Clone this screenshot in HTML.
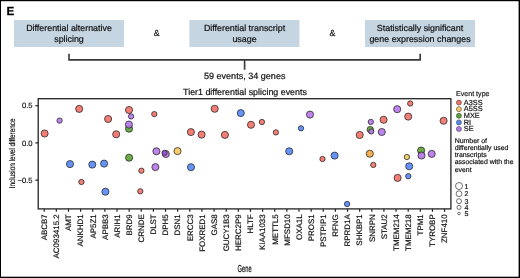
<!DOCTYPE html>
<html><head><meta charset="utf-8"><style>
html,body{margin:0;padding:0;background:#fff;}
svg{display:block;will-change:transform;}
text{font-family:"Liberation Sans",sans-serif;fill:#111;text-rendering:geometricPrecision;}
.b{stroke:#111;stroke-width:0.2px;}
.s{stroke:#111;stroke-width:0.18px;}
</style></head><body>
<svg width="520" height="278" viewBox="0 0 520 278">
<rect x="0" y="0" width="520" height="278" fill="#fff"/>

<text x="6.6" y="15.1" style="font-size:11.7px;font-weight:bold;fill:#000;stroke:#000;stroke-width:0.25px">E</text>
<rect x="14" y="20" width="110" height="27" fill="#C5D5E2"/>
<rect x="189.4" y="20" width="110" height="27" fill="#C5D5E2"/>
<rect x="365" y="20" width="110" height="27" fill="#C5D5E2"/>
<text class="b" x="69" y="30.6" text-anchor="middle" style="font-size:8.9px;">Differential alternative</text>
<text class="b" x="69" y="41.6" text-anchor="middle" style="font-size:8.9px;">splicing</text>
<text class="b" x="244.5" y="30.6" text-anchor="middle" style="font-size:8.9px;">Differential transcript</text>
<text class="b" x="244.5" y="41.6" text-anchor="middle" style="font-size:8.9px;">usage</text>
<text class="b" x="420" y="30.6" text-anchor="middle" style="font-size:8.9px;">Statistically significant</text>
<text class="b" x="420" y="41.6" text-anchor="middle" style="font-size:8.9px;">gene expression changes</text>
<text class="b" x="156.8" y="36.2" text-anchor="middle" style="font-size:8.9px;">&amp;</text>
<text class="b" x="332.5" y="36.2" text-anchor="middle" style="font-size:8.9px;">&amp;</text>
<path d="M69,53.8 V59.9 H420.2 V53.8 M244.6,59.9 V69.8" fill="none" stroke="#383838" stroke-width="1.6"/>
<text class="b" x="244.7" y="78.6" text-anchor="middle" style="font-size:9.05px;">59 events, 34 genes</text>
<text class="b" x="245" y="95" text-anchor="middle" style="font-size:8.9px;">Tier1 differential splicing events</text>
<rect x="38.2" y="98.7" width="412.7" height="110.2" fill="none" stroke="#222" stroke-width="1.3"/>
<line x1="35.3" y1="105.70" x2="38.3" y2="105.70" stroke="#222" stroke-width="1.2"/>
<text class="s" x="32.6" y="108.40" text-anchor="end" style="font-size:7.6px">0.5</text>
<line x1="35.3" y1="142.90" x2="38.3" y2="142.90" stroke="#222" stroke-width="1.2"/>
<text class="s" x="32.6" y="145.60" text-anchor="end" style="font-size:7.6px">0.0</text>
<line x1="35.3" y1="180.10" x2="38.3" y2="180.10" stroke="#222" stroke-width="1.2"/>
<text class="s" x="32.6" y="182.80" text-anchor="end" style="font-size:7.6px">−0.5</text>
<line x1="44.20" y1="208.9" x2="44.20" y2="211.8" stroke="#222" stroke-width="1.2"/>
<text class="s" transform="translate(47.00,214.3) rotate(-90)" text-anchor="end" style="font-size:7.95px">ABCB7</text>
<line x1="56.33" y1="208.9" x2="56.33" y2="211.8" stroke="#222" stroke-width="1.2"/>
<text class="s" transform="translate(59.13,214.3) rotate(-90)" text-anchor="end" style="font-size:7.95px">AC093415.2</text>
<line x1="68.47" y1="208.9" x2="68.47" y2="211.8" stroke="#222" stroke-width="1.2"/>
<text class="s" transform="translate(71.27,214.3) rotate(-90)" text-anchor="end" style="font-size:7.95px">AMT</text>
<line x1="80.60" y1="208.9" x2="80.60" y2="211.8" stroke="#222" stroke-width="1.2"/>
<text class="s" transform="translate(83.40,214.3) rotate(-90)" text-anchor="end" style="font-size:7.95px">ANKHD1</text>
<line x1="92.73" y1="208.9" x2="92.73" y2="211.8" stroke="#222" stroke-width="1.2"/>
<text class="s" transform="translate(95.53,214.3) rotate(-90)" text-anchor="end" style="font-size:7.95px">AP5Z1</text>
<line x1="104.86" y1="208.9" x2="104.86" y2="211.8" stroke="#222" stroke-width="1.2"/>
<text class="s" transform="translate(107.66,214.3) rotate(-90)" text-anchor="end" style="font-size:7.95px">APBB3</text>
<line x1="117.00" y1="208.9" x2="117.00" y2="211.8" stroke="#222" stroke-width="1.2"/>
<text class="s" transform="translate(119.80,214.3) rotate(-90)" text-anchor="end" style="font-size:7.95px">ARIH1</text>
<line x1="129.13" y1="208.9" x2="129.13" y2="211.8" stroke="#222" stroke-width="1.2"/>
<text class="s" transform="translate(131.93,214.3) rotate(-90)" text-anchor="end" style="font-size:7.95px">BRD9</text>
<line x1="141.26" y1="208.9" x2="141.26" y2="211.8" stroke="#222" stroke-width="1.2"/>
<text class="s" transform="translate(144.06,214.3) rotate(-90)" text-anchor="end" style="font-size:7.95px">CRNDE</text>
<line x1="153.40" y1="208.9" x2="153.40" y2="211.8" stroke="#222" stroke-width="1.2"/>
<text class="s" transform="translate(156.20,214.3) rotate(-90)" text-anchor="end" style="font-size:7.95px">DLST</text>
<line x1="165.53" y1="208.9" x2="165.53" y2="211.8" stroke="#222" stroke-width="1.2"/>
<text class="s" transform="translate(168.33,214.3) rotate(-90)" text-anchor="end" style="font-size:7.95px">DPH5</text>
<line x1="177.66" y1="208.9" x2="177.66" y2="211.8" stroke="#222" stroke-width="1.2"/>
<text class="s" transform="translate(180.46,214.3) rotate(-90)" text-anchor="end" style="font-size:7.95px">DSN1</text>
<line x1="189.80" y1="208.9" x2="189.80" y2="211.8" stroke="#222" stroke-width="1.2"/>
<text class="s" transform="translate(192.60,214.3) rotate(-90)" text-anchor="end" style="font-size:7.95px">ERCC3</text>
<line x1="201.93" y1="208.9" x2="201.93" y2="211.8" stroke="#222" stroke-width="1.2"/>
<text class="s" transform="translate(204.73,214.3) rotate(-90)" text-anchor="end" style="font-size:7.95px">FOXRED1</text>
<line x1="214.06" y1="208.9" x2="214.06" y2="211.8" stroke="#222" stroke-width="1.2"/>
<text class="s" transform="translate(216.86,214.3) rotate(-90)" text-anchor="end" style="font-size:7.95px">GAS8</text>
<line x1="226.19" y1="208.9" x2="226.19" y2="211.8" stroke="#222" stroke-width="1.2"/>
<text class="s" transform="translate(229.00,214.3) rotate(-90)" text-anchor="end" style="font-size:7.95px">GUCY1B3</text>
<line x1="238.33" y1="208.9" x2="238.33" y2="211.8" stroke="#222" stroke-width="1.2"/>
<text class="s" transform="translate(241.13,214.3) rotate(-90)" text-anchor="end" style="font-size:7.95px">HERC2P9</text>
<line x1="250.46" y1="208.9" x2="250.46" y2="211.8" stroke="#222" stroke-width="1.2"/>
<text class="s" transform="translate(253.26,214.3) rotate(-90)" text-anchor="end" style="font-size:7.95px">HLTF</text>
<line x1="262.59" y1="208.9" x2="262.59" y2="211.8" stroke="#222" stroke-width="1.2"/>
<text class="s" transform="translate(265.39,214.3) rotate(-90)" text-anchor="end" style="font-size:7.95px">KIAA1033</text>
<line x1="274.73" y1="208.9" x2="274.73" y2="211.8" stroke="#222" stroke-width="1.2"/>
<text class="s" transform="translate(277.53,214.3) rotate(-90)" text-anchor="end" style="font-size:7.95px">METTL5</text>
<line x1="286.86" y1="208.9" x2="286.86" y2="211.8" stroke="#222" stroke-width="1.2"/>
<text class="s" transform="translate(289.66,214.3) rotate(-90)" text-anchor="end" style="font-size:7.95px">MFSD10</text>
<line x1="298.99" y1="208.9" x2="298.99" y2="211.8" stroke="#222" stroke-width="1.2"/>
<text class="s" transform="translate(301.79,214.3) rotate(-90)" text-anchor="end" style="font-size:7.95px">OXA1L</text>
<line x1="311.13" y1="208.9" x2="311.13" y2="211.8" stroke="#222" stroke-width="1.2"/>
<text class="s" transform="translate(313.93,214.3) rotate(-90)" text-anchor="end" style="font-size:7.95px">PROS1</text>
<line x1="323.26" y1="208.9" x2="323.26" y2="211.8" stroke="#222" stroke-width="1.2"/>
<text class="s" transform="translate(326.06,214.3) rotate(-90)" text-anchor="end" style="font-size:7.95px">PSTPIP1</text>
<line x1="335.39" y1="208.9" x2="335.39" y2="211.8" stroke="#222" stroke-width="1.2"/>
<text class="s" transform="translate(338.19,214.3) rotate(-90)" text-anchor="end" style="font-size:7.95px">RFNG</text>
<line x1="347.52" y1="208.9" x2="347.52" y2="211.8" stroke="#222" stroke-width="1.2"/>
<text class="s" transform="translate(350.32,214.3) rotate(-90)" text-anchor="end" style="font-size:7.95px">RPRD1A</text>
<line x1="359.66" y1="208.9" x2="359.66" y2="211.8" stroke="#222" stroke-width="1.2"/>
<text class="s" transform="translate(362.46,214.3) rotate(-90)" text-anchor="end" style="font-size:7.95px">SHKBP1</text>
<line x1="371.79" y1="208.9" x2="371.79" y2="211.8" stroke="#222" stroke-width="1.2"/>
<text class="s" transform="translate(374.59,214.3) rotate(-90)" text-anchor="end" style="font-size:7.95px">SNRPN</text>
<line x1="383.92" y1="208.9" x2="383.92" y2="211.8" stroke="#222" stroke-width="1.2"/>
<text class="s" transform="translate(386.72,214.3) rotate(-90)" text-anchor="end" style="font-size:7.95px">STAU2</text>
<line x1="396.06" y1="208.9" x2="396.06" y2="211.8" stroke="#222" stroke-width="1.2"/>
<text class="s" transform="translate(398.86,214.3) rotate(-90)" text-anchor="end" style="font-size:7.95px">TMEM214</text>
<line x1="408.19" y1="208.9" x2="408.19" y2="211.8" stroke="#222" stroke-width="1.2"/>
<text class="s" transform="translate(410.99,214.3) rotate(-90)" text-anchor="end" style="font-size:7.95px">TMEM218</text>
<line x1="420.32" y1="208.9" x2="420.32" y2="211.8" stroke="#222" stroke-width="1.2"/>
<text class="s" transform="translate(423.12,214.3) rotate(-90)" text-anchor="end" style="font-size:7.95px">TPM1</text>
<line x1="432.46" y1="208.9" x2="432.46" y2="211.8" stroke="#222" stroke-width="1.2"/>
<text class="s" transform="translate(435.26,214.3) rotate(-90)" text-anchor="end" style="font-size:7.95px">TYROBP</text>
<line x1="444.59" y1="208.9" x2="444.59" y2="211.8" stroke="#222" stroke-width="1.2"/>
<text class="s" transform="translate(447.39,214.3) rotate(-90)" text-anchor="end" style="font-size:7.95px">ZNF410</text>
<text class="s" transform="translate(14.7,153.4) rotate(-90) scale(0.77,1)" text-anchor="middle" style="font-size:8.3px">Inclusion level difference</text>
<text class="b" transform="translate(244.6,271.6) scale(0.57,1)" text-anchor="middle" style="font-size:10.1px">Gene</text>
<circle cx="44.6" cy="133.5" r="3.55" fill="#F37067" fill-opacity="0.9" stroke="#2a2a2a" stroke-width="0.8"/>
<circle cx="59.6" cy="120.6" r="2.65" fill="#B776EA" fill-opacity="0.9" stroke="#2a2a2a" stroke-width="0.8"/>
<circle cx="79.2" cy="108.9" r="3.55" fill="#F37067" fill-opacity="0.9" stroke="#2a2a2a" stroke-width="0.8"/>
<circle cx="70.0" cy="164.1" r="3.55" fill="#5388F9" fill-opacity="0.9" stroke="#2a2a2a" stroke-width="0.8"/>
<circle cx="81.4" cy="182.0" r="2.65" fill="#F37067" fill-opacity="0.9" stroke="#2a2a2a" stroke-width="0.8"/>
<circle cx="108.1" cy="119.0" r="3.55" fill="#F37067" fill-opacity="0.9" stroke="#2a2a2a" stroke-width="0.8"/>
<circle cx="116.2" cy="134.3" r="3.55" fill="#F37067" fill-opacity="0.9" stroke="#2a2a2a" stroke-width="0.8"/>
<circle cx="129.0" cy="110.0" r="3.55" fill="#F37067" fill-opacity="0.9" stroke="#2a2a2a" stroke-width="0.8"/>
<circle cx="131.1" cy="116.4" r="2.65" fill="#B776EA" fill-opacity="0.9" stroke="#2a2a2a" stroke-width="0.8"/>
<circle cx="129.0" cy="128.7" r="3.55" fill="#5CA334" fill-opacity="0.9" stroke="#2a2a2a" stroke-width="0.8"/>
<circle cx="128.9" cy="124.6" r="3.55" fill="#B776EA" fill-opacity="0.9" stroke="#2a2a2a" stroke-width="0.8"/>
<circle cx="92.3" cy="164.6" r="3.55" fill="#5388F9" fill-opacity="0.9" stroke="#2a2a2a" stroke-width="0.8"/>
<circle cx="104.1" cy="163.6" r="3.55" fill="#5388F9" fill-opacity="0.9" stroke="#2a2a2a" stroke-width="0.8"/>
<circle cx="129.1" cy="157.7" r="3.55" fill="#5CA334" fill-opacity="0.9" stroke="#2a2a2a" stroke-width="0.8"/>
<circle cx="105.4" cy="191.7" r="3.55" fill="#5388F9" fill-opacity="0.9" stroke="#2a2a2a" stroke-width="0.8"/>
<circle cx="154.3" cy="114.1" r="2.65" fill="#F37067" fill-opacity="0.9" stroke="#2a2a2a" stroke-width="0.8"/>
<circle cx="156.4" cy="151.3" r="3.55" fill="#B776EA" fill-opacity="0.9" stroke="#2a2a2a" stroke-width="0.8"/>
<circle cx="165.8" cy="154.0" r="3.55" fill="#B776EA" fill-opacity="0.9" stroke="#2a2a2a" stroke-width="0.8"/>
<circle cx="164.6" cy="152.8" r="2.6" fill="#9650C8" fill-opacity="0.9" stroke="#2a2a2a" stroke-width="0.8"/>
<circle cx="177.5" cy="151.1" r="3.55" fill="#F9C75C" fill-opacity="0.9" stroke="#2a2a2a" stroke-width="0.8"/>
<circle cx="155.4" cy="167.1" r="3.55" fill="#B776EA" fill-opacity="0.9" stroke="#2a2a2a" stroke-width="0.8"/>
<circle cx="141.4" cy="170.7" r="2.65" fill="#F37067" fill-opacity="0.9" stroke="#2a2a2a" stroke-width="0.8"/>
<circle cx="140.3" cy="191.3" r="2.65" fill="#F37067" fill-opacity="0.9" stroke="#2a2a2a" stroke-width="0.8"/>
<circle cx="214.7" cy="108.8" r="3.55" fill="#F37067" fill-opacity="0.9" stroke="#2a2a2a" stroke-width="0.8"/>
<circle cx="190.9" cy="132.1" r="3.55" fill="#F37067" fill-opacity="0.9" stroke="#2a2a2a" stroke-width="0.8"/>
<circle cx="201.6" cy="134.6" r="3.55" fill="#F37067" fill-opacity="0.9" stroke="#2a2a2a" stroke-width="0.8"/>
<circle cx="224.9" cy="134.9" r="3.55" fill="#F37067" fill-opacity="0.9" stroke="#2a2a2a" stroke-width="0.8"/>
<circle cx="191.0" cy="167.2" r="3.55" fill="#5388F9" fill-opacity="0.9" stroke="#2a2a2a" stroke-width="0.8"/>
<circle cx="240.8" cy="113.1" r="3.55" fill="#5388F9" fill-opacity="0.9" stroke="#2a2a2a" stroke-width="0.8"/>
<circle cx="251.0" cy="124.8" r="3.55" fill="#F37067" fill-opacity="0.9" stroke="#2a2a2a" stroke-width="0.8"/>
<circle cx="261.9" cy="122.0" r="2.65" fill="#F37067" fill-opacity="0.9" stroke="#2a2a2a" stroke-width="0.8"/>
<circle cx="275.9" cy="132.4" r="2.65" fill="#F37067" fill-opacity="0.9" stroke="#2a2a2a" stroke-width="0.8"/>
<circle cx="310.0" cy="114.6" r="3.55" fill="#B776EA" fill-opacity="0.9" stroke="#2a2a2a" stroke-width="0.8"/>
<circle cx="301.0" cy="128.3" r="2.65" fill="#5388F9" fill-opacity="0.9" stroke="#2a2a2a" stroke-width="0.8"/>
<circle cx="289.2" cy="151.3" r="3.55" fill="#5388F9" fill-opacity="0.9" stroke="#2a2a2a" stroke-width="0.8"/>
<circle cx="322.5" cy="159.0" r="2.65" fill="#F37067" fill-opacity="0.9" stroke="#2a2a2a" stroke-width="0.8"/>
<circle cx="334.6" cy="155.6" r="3.55" fill="#5388F9" fill-opacity="0.9" stroke="#2a2a2a" stroke-width="0.8"/>
<circle cx="347.1" cy="204.0" r="2.65" fill="#5388F9" fill-opacity="0.9" stroke="#2a2a2a" stroke-width="0.8"/>
<circle cx="359.7" cy="135.0" r="3.55" fill="#F37067" fill-opacity="0.9" stroke="#2a2a2a" stroke-width="0.8"/>
<circle cx="370.8" cy="121.9" r="2.65" fill="#B776EA" fill-opacity="0.9" stroke="#2a2a2a" stroke-width="0.8"/>
<circle cx="370.3" cy="129.6" r="3.2" fill="#5CA334" fill-opacity="0.9" stroke="#2a2a2a" stroke-width="0.8"/>
<circle cx="371.3" cy="131.5" r="2.6" fill="#B776EA" fill-opacity="0.9" stroke="#2a2a2a" stroke-width="0.8"/>
<circle cx="383.6" cy="119.8" r="3.55" fill="#F37067" fill-opacity="0.9" stroke="#2a2a2a" stroke-width="0.8"/>
<circle cx="381.8" cy="132.0" r="3.55" fill="#B776EA" fill-opacity="0.9" stroke="#2a2a2a" stroke-width="0.8"/>
<circle cx="369.8" cy="153.7" r="3.55" fill="#F4A63D" fill-opacity="0.9" stroke="#2a2a2a" stroke-width="0.8"/>
<circle cx="373.3" cy="164.9" r="2.65" fill="#F37067" fill-opacity="0.9" stroke="#2a2a2a" stroke-width="0.8"/>
<circle cx="397.2" cy="109.2" r="3.55" fill="#B776EA" fill-opacity="0.9" stroke="#2a2a2a" stroke-width="0.8"/>
<circle cx="410.2" cy="103.5" r="2.65" fill="#F37067" fill-opacity="0.9" stroke="#2a2a2a" stroke-width="0.8"/>
<circle cx="408.2" cy="116.6" r="3.55" fill="#F37067" fill-opacity="0.9" stroke="#2a2a2a" stroke-width="0.8"/>
<circle cx="397.6" cy="177.9" r="3.55" fill="#F37067" fill-opacity="0.9" stroke="#2a2a2a" stroke-width="0.8"/>
<circle cx="406.9" cy="157.0" r="2.65" fill="#F9C75C" fill-opacity="0.9" stroke="#2a2a2a" stroke-width="0.8"/>
<circle cx="409.2" cy="166.3" r="3.55" fill="#5388F9" fill-opacity="0.9" stroke="#2a2a2a" stroke-width="0.8"/>
<circle cx="408.3" cy="176.2" r="2.65" fill="#5388F9" fill-opacity="0.9" stroke="#2a2a2a" stroke-width="0.8"/>
<circle cx="443.6" cy="120.8" r="3.55" fill="#F37067" fill-opacity="0.9" stroke="#2a2a2a" stroke-width="0.8"/>
<circle cx="421.1" cy="150.5" r="3.55" fill="#5CA334" fill-opacity="0.9" stroke="#2a2a2a" stroke-width="0.8"/>
<circle cx="421.5" cy="155.5" r="3.55" fill="#B776EA" fill-opacity="0.9" stroke="#2a2a2a" stroke-width="0.8"/>
<circle cx="431.7" cy="153.9" r="3.55" fill="#B776EA" fill-opacity="0.9" stroke="#2a2a2a" stroke-width="0.8"/>
<text class="s" x="456" y="95.8" style="font-size:7.1px">Event type</text>
<circle cx="458.9" cy="102.60" r="2.5" fill="#F37067" stroke="#444" stroke-width="0.6"/>
<text class="s" x="463.8" y="104.80" style="font-size:7.35px">A3SS</text>
<circle cx="458.9" cy="109.20" r="2.5" fill="#F9C75C" stroke="#444" stroke-width="0.6"/>
<text class="s" x="463.8" y="111.40" style="font-size:7.35px">A5SS</text>
<circle cx="458.9" cy="115.80" r="2.5" fill="#5CA334" stroke="#444" stroke-width="0.6"/>
<text class="s" x="463.8" y="118.00" style="font-size:7.35px">MXE</text>
<circle cx="458.9" cy="122.40" r="2.5" fill="#5388F9" stroke="#444" stroke-width="0.6"/>
<text class="s" x="463.8" y="124.60" style="font-size:7.35px">RI</text>
<circle cx="458.9" cy="129.00" r="2.5" fill="#B776EA" stroke="#444" stroke-width="0.6"/>
<text class="s" x="463.8" y="131.20" style="font-size:7.35px">SE</text>
<text class="s" x="454.7" y="143.30" style="font-size:6.93px">Number of</text>
<text class="s" x="454.7" y="150.35" style="font-size:6.93px">differentially used</text>
<text class="s" x="454.7" y="157.40" style="font-size:6.93px">transcripts</text>
<text class="s" x="454.7" y="164.45" style="font-size:6.93px">associated with the</text>
<text class="s" x="454.7" y="171.50" style="font-size:6.93px">event</text>
<circle cx="459.0" cy="186" r="3.5" fill="none" stroke="#333" stroke-width="0.7"/>
<text class="s" x="464.6" y="188.50" style="font-size:7.1px">1</text>
<circle cx="459.0" cy="193.7" r="2.9" fill="none" stroke="#333" stroke-width="0.7"/>
<text class="s" x="464.6" y="196.20" style="font-size:7.1px">2</text>
<circle cx="459.0" cy="201.2" r="2.5" fill="none" stroke="#333" stroke-width="0.7"/>
<text class="s" x="464.6" y="203.70" style="font-size:7.1px">3</text>
<circle cx="459.0" cy="207.4" r="2.0" fill="none" stroke="#333" stroke-width="0.7"/>
<text class="s" x="464.6" y="209.90" style="font-size:7.1px">4</text>
<circle cx="459.0" cy="213.5" r="1.3" fill="none" stroke="#333" stroke-width="0.7"/>
<text class="s" x="464.6" y="216.00" style="font-size:7.1px">5</text>
<rect x="0" y="0" width="520" height="1.2" fill="#000"/>
<rect x="0" y="0" width="1" height="278" fill="#000"/>
<rect x="518.6" y="0" width="1.4" height="278" fill="#000"/>
<rect x="0" y="276.7" width="520" height="1.3" fill="#000"/>
</svg></body></html>
